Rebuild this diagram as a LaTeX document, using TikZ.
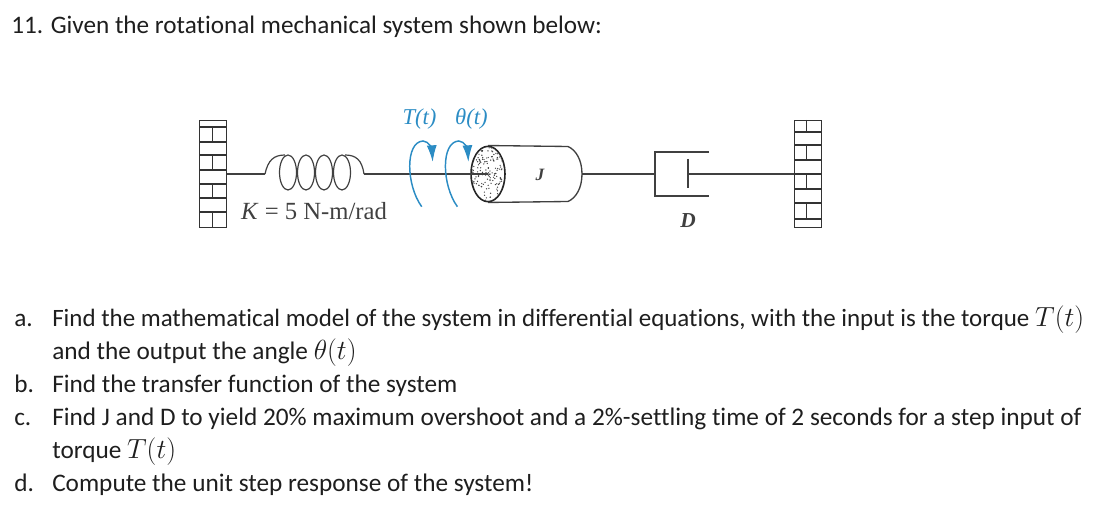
\documentclass[tikz,border=0pt]{standalone}
\usepackage{fontspec}
\setmainfont[Ligatures=NoCommon]{Carlito}
\newfontfamily\figfont{Liberation Serif}
\usepackage{xcolor}
\usetikzlibrary{arrows.meta,shapes.geometric}
\definecolor{torqueblue}{HTML}{2B8CC4}
\definecolor{inktext}{HTML}{1E1E1E}
\newcommand{\qmath}[1]{{\fontsize{20.7pt}{20pt}\selectfont$#1$}}
\tikzset{
	qtext/.style={anchor=base west, inner sep=0pt, text=inktext, font=\fontsize{18.95pt}{20pt}\selectfont},
	figlabel/.style={inner sep=0pt, text=inktext!85, font=\figfont\fontsize{18.5pt}{20pt}\selectfont},
	bluelabel/.style={inner sep=0pt, text=torqueblue, font=\figfont\itshape\fontsize{17pt}{20pt}\selectfont},
	wallbox/.style={draw=black!80, line width=1pt, rectangle, minimum width=20.5pt, minimum height=80.5pt, inner sep=0pt},
	brick/.style={draw=black!80, line width=0.9pt},
	mech/.style={draw=black!75, line width=0.9pt},
	turn/.style={draw=torqueblue, line width=1.1pt, -{Latex[length=12.5pt,width=7.5pt]}},
}
\begin{document}
\begin{tikzpicture}[x=0.75pt,y=-0.75pt]
	\useasboundingbox (0,0) rectangle (1118,523);
	% question text
	\node [qtext, font=\fontsize{18.9pt}{20pt}\selectfont] (title) at (11,34) {11. Given the rotational mechanical system shown below:};
	\node [qtext] (marka) at (14,327) {a.};
	\node [qtext, font=\fontsize{18.72pt}{20pt}\selectfont] (parta) at (52,327) {Find the mathematical model of the system in differential equations, with the input is the torque \qmath{T(t)}};
	\node [qtext] (partaa) at (52,360) {and the output the angle \qmath{\theta(t)}};
	\node [qtext] (markb) at (14,393) {b.};
	\node [qtext] (partb) at (52,393) {Find the transfer function of the system};
	\node [qtext] (markc) at (14,426) {c.};
	\node [qtext] (partc) at (52,426) {Find J and D to yield 20\% maximum overshoot and a 2\%-settling time of 2 seconds for a step input of};
	\node [qtext] (partcc) at (52,459) {torque \qmath{T(t)}};
	\node [qtext] (markd) at (14,492) {d.};
	\node [qtext] (partd) at (52,492) {Compute the unit step response of the system!};
	% walls
	\node [wallbox] (leftwall) at (213,174) {};
	\node [wallbox] (rightwall) at (808,174) {};
	\foreach \y in {127,142,155,170,184,198,212}
		\draw [brick] (199.5,\y) -- (226.5,\y);
	\foreach \y in {132,145,160,174,189,203,219}
		\draw [brick] (794.5,\y) -- (821.5,\y);
	\foreach \a/\b in {127/142,155/170,184/198,212/227}
		\draw [brick] (212.7,\a) -- (212.7,\b);
	\foreach \a/\b in {120/132,145/160,174/189,203/219}
		\draw [brick] (806.7,\a) -- (806.7,\b);
	% spring
	\coordinate (springin) at (265,174);
	\coordinate (springout) at (364,174);
	\draw [mech] (leftwall.east) -- (springin);
	\draw [mech] (springin) .. controls (268,160) and (274,155) .. (285,155);
	\foreach \x in {288,306,324,342}
		\draw [mech] (\x,172.5) ellipse [x radius=8.5, y radius=17.5];
	\draw [mech] (345,155) .. controls (356,155) and (362,160) .. (springout);
	% drum
	\node [ellipse, draw=black!85, line width=1.2pt, fill=white, minimum width=25.5pt, minimum height=41.5pt, inner sep=0pt] (disk) at (488,174) {};
	\begin{scope}
		\clip (488,174) ellipse [x radius=16, y radius=27];
		\pgfmathsetseed{11}
		\foreach \i in {1,...,170}
			\fill [black!75] (472+32*rnd,147+54*rnd) circle [radius=0.7];
	\end{scope}
	\draw [mech] (springout) -- (disk.center);
	\coordinate (drumend) at (582,174);
	\draw [mech, line width=1pt] (disk.north) -- (568,146.5) .. controls (576,150) and (582,160) .. (drumend) .. controls (582,188) and (576,198) .. (568,201.5) -- (disk.south);
	\node [figlabel, font=\figfont\itshape\bfseries\fontsize{13pt}{14pt}\selectfont] (inertia) at (540,175) {J};
	% damper
	\coordinate (cupback) at (655,174);
	\coordinate (piston) at (688,174);
	\draw [mech] (drumend) -- (cupback);
	\draw [mech] (709,152) -- (655,152) -- (655,196) -- (709,196);
	\draw [mech] (688,159) -- (688,188);
	\draw [mech] (piston) -- (rightwall.west);
	\node [figlabel, font=\figfont\itshape\bfseries\fontsize{16pt}{18pt}\selectfont] (damping) at (688,221) {D};
	% labels
	\node [figlabel] (stiffness) at (314,211) {\textit{K} = 5 N-m/rad};
	\node [bluelabel] (torque) at (419.5,119) {T(t)};
	\node [bluelabel] (angle) at (471.5,119) {θ(t)};
	% rotation arrows
	\draw [turn] (421.7,206.7) .. controls (406,185) and (405,142) .. (423,141) .. controls (429,141) and (432,150) .. (432.7,162);
	\draw [turn] (457.4,206.7) .. controls (441.7,185) and (440.7,142) .. (458.7,141) .. controls (464.7,141) and (467.7,150) .. (468.4,162);
\end{tikzpicture}
\end{document}
